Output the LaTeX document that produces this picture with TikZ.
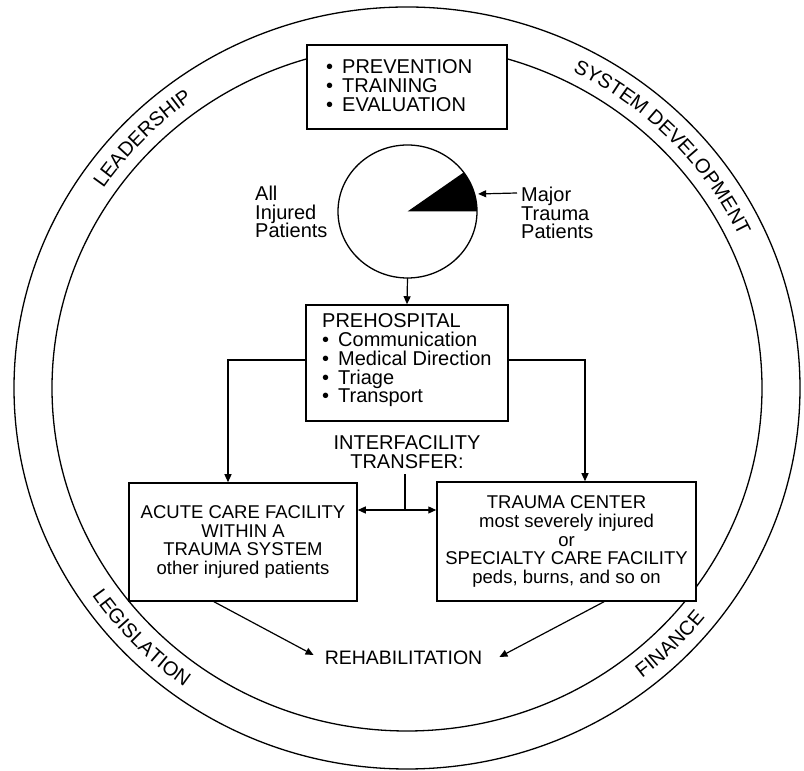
\documentclass[tikz,border=0pt]{standalone}
\usepackage{fontspec}
\setmainfont{Liberation Sans}
\usetikzlibrary{arrows.meta,decorations.text,calc,shapes.geometric}
\newcommand\ringfont{\fontsize{20}{20}\selectfont}
\newcommand\bul{\textbullet\hspace{9pt}}
\begin{document}
\begin{tikzpicture}[x=1pt,y=1pt,
  ring/.style={line width=1.3pt},
  box/.style={draw, line width=1.5pt, fill=white, inner sep=0pt},
  conn/.style={line width=1.2pt},
  tip/.tip={Triangle[length=8pt,width=7pt]},
  arr/.style={conn, -tip},
  lbl/.style={inner sep=0pt, align=left, font=\fontsize{20}{18.75}\selectfont},
  fac/.style={box, align=center, font=\fontsize{18.5}{18.9}\selectfont},
  ringlbl/.style={decorate, decoration={text along path, text align=center, text={|\ringfont|#1}}}
]
\useasboundingbox (0,0) rectangle (804,771);
\coordinate (C) at (407,383);
% rings
\draw[ring] (C) ellipse [x radius=393, y radius=381];
\draw[ring] (C) ellipse [x radius=355, y radius=343];
% ring labels
\path[ringlbl=LEADERSHIP] ($(C)+(166:367 and 355)$) arc[start angle=166, end angle=106, x radius=367, y radius=355];
\path[ringlbl=SYSTEM DEVELOPMENT] ($(C)+(79:367 and 355)$) arc[start angle=79, end angle=9, x radius=367, y radius=355];
\path[ringlbl=LEGISLATION] ($(C)+(194:381 and 369)$) arc[start angle=194, end angle=254, x radius=381, y radius=369];
\path[ringlbl=FINANCE] ($(C)+(285:381 and 369)$) arc[start angle=285, end angle=345, x radius=381, y radius=369];

% top box
\node[box, minimum width=200pt, minimum height=84pt] (topbox) at (407,684) {};
\node[lbl, anchor=west] (toptext) at (326,685.5) {\bul PREVENTION\\ \bul TRAINING\\ \bul EVALUATION};

% pie
\node[draw, ellipse, line width=1.3pt, minimum width=139pt, minimum height=133pt, inner sep=0pt, outer sep=0pt] (pie) at (407.5,559.5) {};
\fill (pie.center) -- ++(0:69.5 and 66.5) arc[start angle=0, end angle=36, x radius=69.5, y radius=66.5] -- cycle;
\coordinate (mt) at ($(pie.center)+(14.5:73 and 70)$);
\node[lbl, anchor=west] (allinj) at (255,559) {All\\Injured\\Patients};
\node[lbl, anchor=west] (major) at (521,558) {Major\\Trauma\\Patients};
\draw[arr] ([xshift=-4pt,yshift=20pt]major.west) -- (mt);

% prehospital
\node[box, minimum width=202pt, minimum height=116pt] (pre) at (407,408) {};
\node[lbl, anchor=west] (pretext) at (322,410.5) {PREHOSPITAL\\ \bul Communication\\ \bul Medical Direction\\ \bul Triage\\ \bul Transport};
\draw[arr] (pie.south) -- (pre.north);

% facilities
\node[fac, minimum width=228pt, minimum height=118pt] (acute) at (243,229) {ACUTE CARE FACILITY\\WITHIN A\\TRAUMA SYSTEM\\other injured patients};
\node[fac, minimum width=259pt, minimum height=119pt] (trauma) at (566.5,229.5) {TRAUMA CENTER\\most severely injured\\or\\SPECIALTY CARE FACILITY\\peds, burns, and so on};

\draw[arr] ([yshift=3pt]pre.west) -| ([xshift=-15pt]acute.north);
\draw[arr] ([yshift=3pt]pre.east) -| ([xshift=18.5pt]trauma.north);

% interfacility transfer
\node[inner sep=0pt, align=center, font=\fontsize{20}{19}\selectfont] (inter) at (407,318.5) {INTERFACILITY\\TRANSFER:};
\coordinate (junc) at (405,261);
\draw[conn, shorten <=5pt] (inter.south -| junc) -- (junc);
\draw[conn, tip-tip] (acute.east |- junc) -- (trauma.west |- junc);

% rehabilitation
\node[inner sep=0pt, font=\fontsize{19.5}{20}\selectfont] (rehab) at (403.5,113) {REHABILITATION};
\draw[arr] ([xshift=-29pt]acute.south) -- ([xshift=-11pt,yshift=3pt]rehab.west);
\draw[arr] ([xshift=37.5pt]trauma.south) -- ([xshift=17pt,yshift=1pt]rehab.east);
\end{tikzpicture}
\end{document}
